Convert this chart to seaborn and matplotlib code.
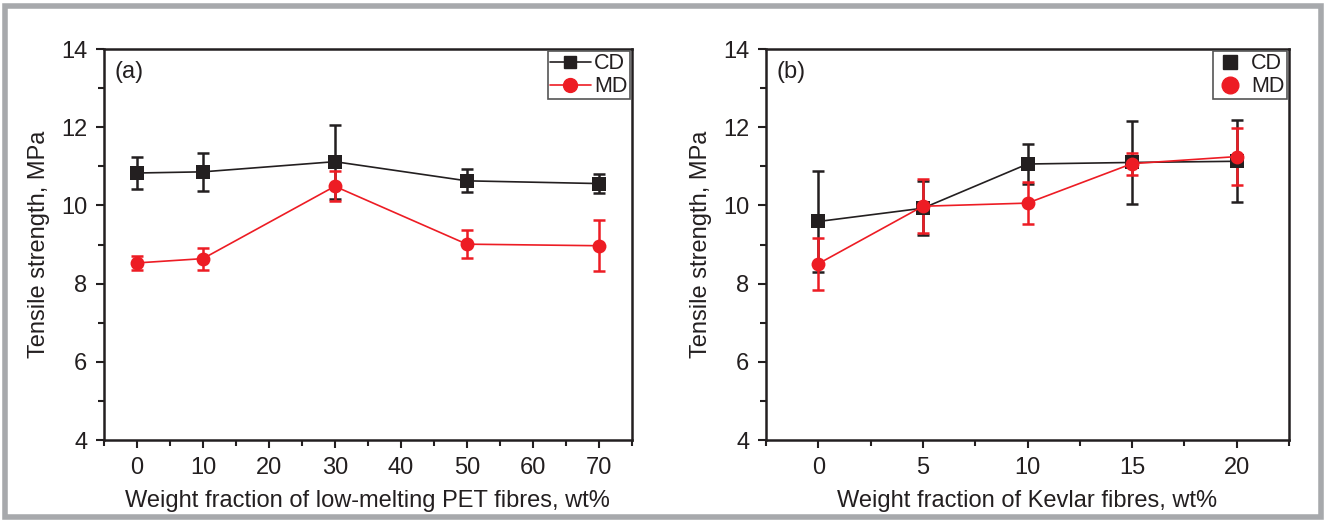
import seaborn as sns
import matplotlib.pyplot as plt
import pandas as pd
from matplotlib.patches import Rectangle
from matplotlib.ticker import MultipleLocator

# panel (a): low-melting PET fibres
pet_wt = [0, 10, 30, 50, 70]
pet_cd = [10.83, 10.86, 11.12, 10.63, 10.56]
pet_cd_err = [0.42, 0.49, 0.95, 0.29, 0.25]
pet_md = [8.53, 8.64, 10.49, 9.01, 8.97]
pet_md_err = [0.19, 0.28, 0.38, 0.35, 0.65]

# panel (b): Kevlar fibres
kev_wt = [0, 5, 10, 15, 20]
kev_cd = [9.59, 9.93, 11.06, 11.10, 11.13]
kev_cd_err = [1.28, 0.69, 0.50, 1.07, 1.05]
kev_md = [8.51, 9.98, 10.06, 11.07, 11.25]
kev_md_err = [0.66, 0.69, 0.53, 0.28, 0.72]

sns.set_style("ticks")
plt.rcParams['font.family'] = ['Liberation Sans', 'DejaVu Sans']

fig = plt.figure(figsize=(13.26, 5.22), dpi=100)
fig.patches.append(Rectangle((0.004, 0.01), 0.992, 0.978, transform=fig.transFigure,
                             fill=False, edgecolor='#a7a9ac', linewidth=4))

ax1 = fig.add_axes([0.0784, 0.157, 0.398, 0.749])
ax2 = fig.add_axes([0.5777, 0.157, 0.3944, 0.749])

black = '#231f20'
red = '#ed1c24'


def draw(ax, wt, cd, cd_err, md, md_err, label_lines):
    df = pd.DataFrame({'wt': wt * 2, 'ts': cd + md,
                       'dir': ['CD'] * len(wt) + ['MD'] * len(wt)})
    ax.errorbar(wt, cd, yerr=cd_err, fmt='none', ecolor=black, elinewidth=1.8,
                capsize=4, capthick=1.8, zorder=2)
    ax.errorbar(wt, md, yerr=md_err, fmt='none', ecolor=red, elinewidth=1.8,
                capsize=4, capthick=1.8, zorder=2)
    sns.lineplot(data=df, x='wt', y='ts', hue='dir', style='dir',
                 palette={'CD': black, 'MD': red}, markers={'CD': 's', 'MD': 'o'},
                 dashes=False, markersize=10, markeredgewidth=0, linewidth=1.2,
                 ax=ax, legend=False, zorder=3)
    if label_lines:
        h = [plt.Line2D([], [], color=black, marker='s', markersize=9, lw=1.2),
             plt.Line2D([], [], color=red, marker='o', markersize=10, lw=1.2)]
        leg = ax.legend(h, ['CD', 'MD'], loc='upper right', handlelength=1.9,
                        handletextpad=0.15, borderpad=0.1, borderaxespad=0.1,
                        labelspacing=0.08, fontsize=15.5, fancybox=False,
                        framealpha=1)
    else:
        h = [plt.Line2D([], [], color=black, marker='s', markersize=10, lw=0),
             plt.Line2D([], [], color=red, marker='o', markersize=12, lw=0)]
        leg = ax.legend(h, ['CD', 'MD'], loc='upper right', handlelength=1.4,
                        handletextpad=0.3, borderpad=0.1, borderaxespad=0.1,
                        labelspacing=0.08, fontsize=15.5, fancybox=False,
                        framealpha=1)
    leg.get_frame().set_edgecolor('#555555')
    leg.get_frame().set_linewidth(1.2)
    for t in leg.get_texts():
        t.set_color(black)

    ax.set_ylim(4, 14)
    ax.yaxis.set_major_locator(MultipleLocator(2))
    ax.yaxis.set_minor_locator(MultipleLocator(1))
    ax.set_ylabel('Tensile strength, MPa', fontsize=17, color=black, labelpad=8)
    ax.tick_params(which='major', direction='out', length=6, width=1.5,
                   labelsize=17, colors=black, pad=6)
    ax.tick_params(which='minor', direction='out', length=4, width=1.5, colors=black)
    for s in ax.spines.values():
        s.set_linewidth(1.8)
        s.set_color(black)


draw(ax1, pet_wt, pet_cd, pet_cd_err, pet_md, pet_md_err, True)
ax1.set_xlim(-5, 75)
ax1.xaxis.set_major_locator(MultipleLocator(10))
ax1.xaxis.set_minor_locator(MultipleLocator(5))
ax1.set_xlabel('Weight fraction of low-melting PET fibres, wt%', fontsize=17,
               color=black, labelpad=8)
ax1.text(0.02, 0.97, '(a)', transform=ax1.transAxes, fontsize=17, va='top',
         color=black)

draw(ax2, kev_wt, kev_cd, kev_cd_err, kev_md, kev_md_err, False)
ax2.set_xlim(-2.5, 22.5)
ax2.xaxis.set_major_locator(MultipleLocator(5))
ax2.xaxis.set_minor_locator(MultipleLocator(2.5))
ax2.set_xlabel('Weight fraction of Kevlar fibres, wt%', fontsize=17,
               color=black, labelpad=8)
ax2.text(0.02, 0.97, '(b)', transform=ax2.transAxes, fontsize=17, va='top',
         color=black)

fig.savefig('out.png', dpi=100)
